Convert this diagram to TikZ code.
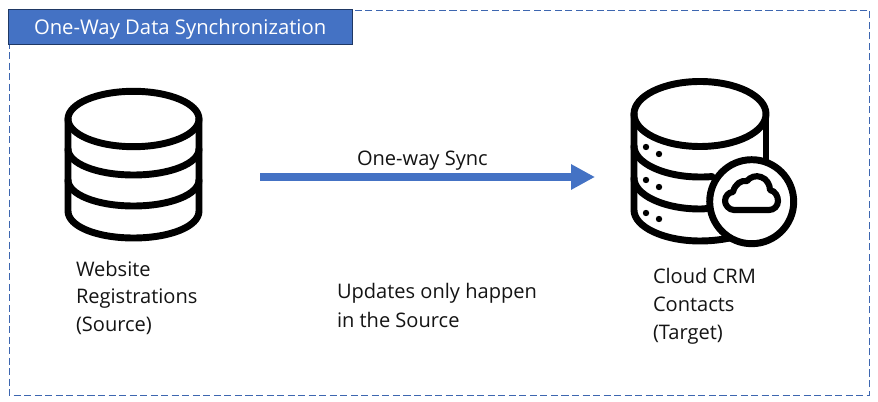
\documentclass[tikz,border=0pt]{standalone}
\usepackage{fontspec}
\setmainfont{Open Sans}
\usetikzlibrary{arrows.meta}
\definecolor{barblue}{HTML}{4472C4}
\definecolor{bardark}{HTML}{1F3864}
\definecolor{framec}{HTML}{3D66B0}
\tikzset{
  every node/.style={inner sep=0pt,outer sep=0pt},
  lbl/.style={anchor=base west,font=\fontsize{15.05}{18}\selectfont,text=black!92},
  icon/.style={line width=5.2pt,draw=black,line join=round,line cap=round},
  thin icon/.style={line width=4.6pt,draw=black,line join=round},
  dotc/.style={fill=black,draw=none},
  frame/.style={draw=framec,line width=0.7pt,dash pattern=on 5.3pt off 2.6pt},
  flow/.style={draw=barblue,line width=6pt,-{Triangle[length=18pt,width=18pt]}}
}
\begin{document}
\begin{tikzpicture}[x=0.75pt,y=-0.75pt]
\useasboundingbox (0,0) rectangle (878,402);
\fill[white] (0,0) rectangle (878,402);
\draw[frame] (9,10) rectangle (869.5,395);
\node[draw=bardark,line width=0.9pt,fill=barblue,minimum width=258pt,minimum height=26.5pt,anchor=north west] (title) at (8.5,9.5) {};
\node[anchor=base west,text=white,font=\fontsize{15.2}{18}\selectfont] (titletext) at (34,35) {One-Way Data Synchronization};
% source icon
\begin{scope}[icon]
\draw (133.5,119) ellipse [x radius=65.5,y radius=27.7];
\draw (68,119) -- (68,211) .. controls (68,226.5) and (97,238) .. (133.5,238) .. controls (170,238) and (199,226.5) .. (199,211) -- (199,119);
\draw (68,149) .. controls (68,163.5) and (97,175) .. (133.5,175) .. controls (170,175) and (199,163.5) .. (199,149);
\draw (68,180) .. controls (68,194.5) and (97,206) .. (133.5,206) .. controls (170,206) and (199,194.5) .. (199,180);
\end{scope}
% target icon
\begin{scope}[icon]
\draw (700,114) ellipse [x radius=66,y radius=32.5];
\draw (634,114) -- (634,210) .. controls (634,227) and (664,241) .. (700,241) .. controls (712,241) and (724,239.5) .. (734,237);
\draw (766,114) -- (766,165);
\draw (634,146) .. controls (634,163) and (664,177) .. (700,177) .. controls (704,177) and (708,177) .. (712,176.5);
\draw (634,178) .. controls (634,195) and (664,209) .. (700,209) .. controls (702,209) and (704,209) .. (707,208.5);
\end{scope}
\foreach \px/\py in {646/147,659/154,646/180,659/187,646/213,659/219}
  \fill[dotc] (\px,\py) circle [radius=3.2];
\draw[icon,fill=white] (751.7,201.7) circle [radius=42];
\draw[thin icon] (734,210) .. controls (729,210) and (725,205) .. (725,201) .. controls (725,196) and (729,192) .. (733,192)
  .. controls (735,184) and (741,180) .. (747,181) .. controls (750,177) and (756,175) .. (761,177)
  .. controls (767,179) and (770,185) .. (770,190) .. controls (775,191) and (778,196) .. (778,201)
  .. controls (778,206) and (774,210) .. (769,210) -- cycle;
% arrow
\coordinate (syncstart) at (260,177);
\coordinate (syncend) at (595,177);
\draw[flow] (syncstart) -- (syncend);
% labels
\node[lbl] (synclabel) at (357,165.7) {One-way Sync};
\node[lbl] (src1) at (76,276.7) {Website};
\node[lbl] (src2) at (76,304) {Registrations};
\node[lbl] (src3) at (76,331.7) {(Source)};
\node[lbl] (upd1) at (337,299) {Updates only happen};
\node[lbl] (upd2) at (337,327.4) {in the Source};
\node[lbl] (tgt1) at (653,283.4) {Cloud CRM};
\node[lbl] (tgt2) at (653,311.4) {Contacts};
\node[lbl] (tgt3) at (653,339.4) {(Target)};
\end{tikzpicture}
\end{document}
